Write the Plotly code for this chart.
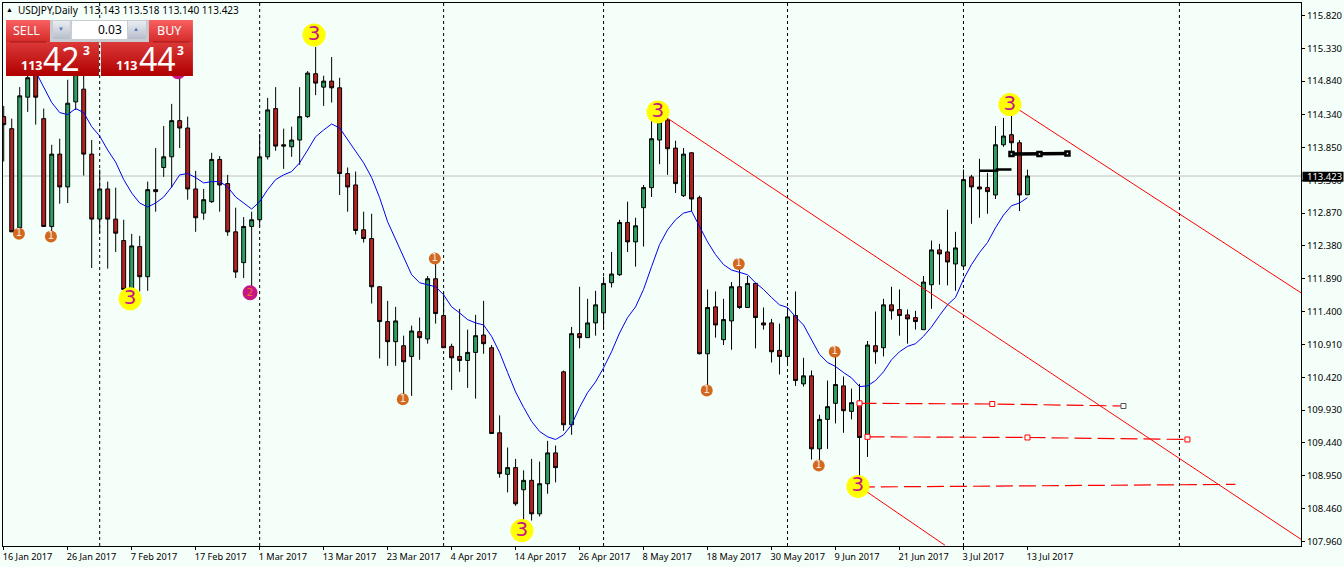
import plotly.graph_objects as go

BG = "#F5FFFA"
RED = "#B22222"
GREEN = "#2E9F62"

title_text = "USDJPY,Daily  113.143 113.518 113.140 113.423"

opens = [114.31,114.13,112.65,114.60,114.98,114.28,112.67,113.75,113.26,114.53,
         114.72,113.75,112.78,113.23,112.78,112.46,111.73,112.37,111.92,113.22,
         113.55,113.71,114.25,114.14,113.23,112.87,113.04,113.67,113.31,112.59,
         112.13,112.67,112.77,113.71,114.43,113.89,113.86,113.96,114.31,114.95,
         114.75,114.84,114.74,113.46,113.29,112.62,112.49,111.77,111.25,110.95,
         110.89,110.73,111.10,110.99,111.89,111.34,110.88,110.73,110.67,110.79,
         111.05,110.86,109.59,108.97,109.07,108.74,108.88,108.38,108.83,109.29,
         110.50,109.71,111.07,111.01,111.23,111.38,111.83,111.95,112.73,112.44,
         112.95,113.25,113.96,114.26,113.84,113.13,113.77,113.10,110.77,111.47,
         110.98,111.26,111.77,111.46,111.82,111.23,111.23,110.82,110.73,111.34,
         110.32,110.44,109.35,109.79,110.03,110.29,109.91,110.04,109.52,110.89,
         110.86,111.50,111.43,111.35,111.31,111.13,111.80,112.32,112.29,112.11,
         112.08,113.41,113.26,113.25,113.14,113.89,114.04,113.92,113.143]
highs = [114.47,114.28,114.75,115.01,115.13,114.43,113.89,113.98,114.86,115.31,
         115.01,113.96,113.52,113.34,113.25,112.77,112.56,112.53,113.34,113.84,
         114.17,114.50,114.89,114.31,113.50,113.23,113.77,113.72,113.44,112.95,
         112.81,112.89,114.05,114.59,114.75,114.13,114.16,114.75,114.99,115.35,
         114.92,115.20,114.89,113.55,113.49,112.89,112.86,111.78,111.56,111.47,
         111.04,111.19,111.31,111.93,112.20,111.68,110.92,111.44,111.13,111.35,
         111.56,110.90,109.85,109.37,109.20,109.03,109.20,109.16,109.47,109.40,
         110.52,111.17,111.77,111.59,111.71,111.92,112.29,112.77,113.04,112.80,
         113.29,114.41,114.41,114.31,113.95,113.84,113.78,113.13,111.73,111.70,
         111.59,111.84,112.05,111.93,111.83,111.46,111.29,111.22,111.46,111.70,
         110.71,110.52,109.86,110.37,110.88,110.43,110.25,110.32,110.96,111.40,
         111.59,111.77,111.73,111.43,111.41,111.93,112.46,112.41,112.92,112.59,
         113.52,113.44,113.68,113.47,114.17,114.29,114.41,113.96,113.518]
lows = [113.64,112.59,112.59,114.38,114.19,112.67,112.59,113.01,113.02,114.41,
        113.43,112.05,112.57,112.04,112.29,111.68,111.73,111.70,111.71,112.89,
        113.41,113.25,113.84,113.07,112.59,112.77,113.02,112.89,112.53,111.90,
        111.90,111.77,112.67,113.67,113.80,113.53,113.71,113.59,114.29,114.63,
        114.47,114.52,113.14,112.89,112.55,112.43,111.52,110.70,110.59,110.59,
        110.09,110.14,110.68,110.92,111.22,110.86,110.23,110.50,110.26,110.10,
        110.77,109.58,108.92,108.70,108.50,108.26,108.28,108.34,108.68,108.85,
        109.62,109.56,110.85,111.01,111.04,111.14,111.76,111.93,112.29,112.07,
        112.37,113.11,113.60,113.44,113.17,113.11,112.90,110.76,110.28,111.01,
        110.90,110.83,111.44,111.46,110.85,111.13,110.64,110.46,110.61,110.29,
        110.28,109.19,109.16,109.35,109.73,109.59,109.79,108.94,109.23,110.62,
        110.73,111.28,111.04,110.92,111.13,111.13,111.44,111.80,111.79,111.71,
        112.05,112.71,112.80,112.86,113.08,113.86,113.74,112.90,113.140]
closes = [114.19,112.59,114.62,114.89,114.60,112.67,113.75,113.26,114.51,115.01,
          113.75,112.78,113.23,112.78,112.57,111.73,112.38,111.92,113.22,113.19,
          113.71,114.25,114.14,113.23,112.80,113.07,113.67,113.29,112.59,111.99,
          112.67,112.77,113.71,114.41,113.87,113.87,113.96,114.31,114.96,114.81,
          114.84,114.74,113.46,113.26,112.61,112.49,111.77,111.25,110.95,111.26,
          110.65,111.11,111.01,111.89,111.37,110.86,110.71,110.67,110.79,111.04,
          110.92,109.58,108.98,109.07,108.53,108.88,108.38,108.83,109.29,109.07,
          109.71,111.07,111.01,111.23,111.50,111.82,111.96,112.73,112.44,112.68,
          113.25,113.98,114.23,113.83,113.31,113.75,113.08,110.77,111.46,111.20,
          111.28,111.77,111.46,111.82,111.31,111.20,110.80,110.73,111.32,110.37,
          110.44,109.35,109.79,109.98,110.31,109.92,110.04,109.52,110.90,110.80,
          111.50,111.41,111.34,111.29,111.25,111.84,112.32,112.26,112.14,112.35,
          113.37,113.26,113.23,113.19,113.89,114.02,113.92,113.14,113.423]

ma_start = 4
ma_values = [114.98,114.74,114.52,114.37,114.34,114.43,114.37,114.16,114.02,113.81,
             113.63,113.37,113.17,113.02,112.96,113.02,113.11,113.26,113.44,113.46,
             113.40,113.32,113.34,113.34,113.26,113.11,113.02,112.93,113.04,113.22,
             113.37,113.44,113.49,113.62,113.81,114.01,114.11,114.20,114.14,113.96,
             113.78,113.62,113.40,113.10,112.74,112.47,112.20,111.95,111.83,111.80,
             111.77,111.65,111.47,111.38,111.28,111.23,111.20,111.03,110.79,110.49,
             110.20,109.97,109.76,109.61,109.53,109.49,109.56,109.71,109.97,110.19,
             110.35,110.56,110.80,111.08,111.31,111.47,111.73,112.07,112.40,112.62,
             112.77,112.87,112.90,112.67,112.44,112.25,112.10,112.02,111.98,111.95,
             111.83,111.73,111.61,111.50,111.46,111.32,111.20,110.98,110.76,110.64,
             110.58,110.49,110.41,110.28,110.29,110.37,110.50,110.68,110.80,110.88,
             110.92,111.03,111.17,111.34,111.50,111.61,111.88,112.10,112.28,112.43,
             112.65,112.84,112.98,113.02,113.10]

x_tick_idx = [0,8,16,24,32,40,48,56,64,72,80,88,96,104,112,120,128]
x_tick_labels = ["16 Jan 2017","26 Jan 2017","7 Feb 2017","17 Feb 2017","1 Mar 2017","13 Mar 2017",
                 "23 Mar 2017","4 Apr 2017","14 Apr 2017","26 Apr 2017","8 May 2017","18 May 2017",
                 "30 May 2017","9 Jun 2017","21 Jun 2017","3 Jul 2017","13 Jul 2017"]
y_tick_vals = [115.82,115.33,114.84,114.34,113.85,113.36,112.87,112.38,111.89,111.40,110.91,110.42,
               109.93,109.44,108.95,108.46,107.96]
y_tick_labels = ["%.3f" % v for v in y_tick_vals]
month_seps = [12,32,55,75,98,120,147]
last_price = 113.423

yellow_x = [38.8,15.8,64.8,81.8,106.8,125.8]
yellow_y = [115.53,111.59,108.13,114.38,108.79,114.49]
orange_x = [1.9,5.9,49.9,53.9,87.9,91.9,101.9,103.9]
orange_y = [112.56,112.52,110.09,112.19,110.22,112.11,109.10,110.80]
pink_x = [30.8,21.8]
pink_y = [111.68,114.98]

trend_lines = [([81.8,162.2],[114.38,108.00]),
               ([125.8,162.2],[114.50,111.68]),
               ([106.8,117.7],[108.80,107.91])]
dash_lines = [([107,123.6,140],[110.03,110.02,109.99]),
              ([108,128,148],[109.53,109.52,109.49]),
              ([106.8,154],[108.78,108.82])]
black_marked_x = [126,129.5,133]
black_marked_y = [113.75,113.75,113.76]
black_plain_x = [122,124.2,124.2,126]
black_plain_y = [113.50,113.50,113.52,113.52]

L, R_EDGE, T, B = 3, 1301.5, 3, 546.5
W, H = 1344, 567
def xp(p): return (p - L) / (R_EDGE - L)
def yp(p): return 1 - (p - T) / (B - T)

fig = go.Figure()
idx = list(range(len(opens)))
fig.add_trace(go.Candlestick(
    x=idx, open=opens, high=highs, low=lows, close=closes,
    increasing=dict(fillcolor=GREEN, line=dict(color="#000000", width=1)),
    decreasing=dict(fillcolor=RED, line=dict(color="#000000", width=1)),
    whiskerwidth=0, showlegend=False, hoverinfo="skip"))
fig.add_trace(go.Scatter(x=idx[ma_start:], y=ma_values, mode="lines",
                         line=dict(color="#0000EE", width=1), showlegend=False, hoverinfo="skip"))
for xs, ys in trend_lines:
    fig.add_trace(go.Scatter(x=xs, y=ys, mode="lines", line=dict(color="#FF0000", width=1),
                             showlegend=False, hoverinfo="skip"))
dash_colors = [["#FF0000","#FF0000","#555555"], ["#FF0000","#FF0000","#FF0000"], None]
for (xs, ys), mc in zip(dash_lines, dash_colors):
    if mc:
        fig.add_trace(go.Scatter(x=xs, y=ys, mode="lines+markers",
                                 line=dict(color="#FF0000", width=1.2, dash="17px,6px"),
                                 marker=dict(symbol="square", size=5, color="#FFFFFF",
                                             line=dict(color=mc, width=1)),
                                 showlegend=False, hoverinfo="skip"))
    else:
        fig.add_trace(go.Scatter(x=xs, y=ys, mode="lines",
                                 line=dict(color="#FF0000", width=1.2, dash="17px,6px"),
                                 showlegend=False, hoverinfo="skip"))
fig.add_trace(go.Scatter(x=black_plain_x, y=black_plain_y, mode="lines",
                         line=dict(color="#000000", width=2.5), showlegend=False, hoverinfo="skip"))
fig.add_trace(go.Scatter(x=black_marked_x, y=black_marked_y, mode="lines+markers",
                         line=dict(color="#000000", width=3.5),
                         marker=dict(symbol="square", size=4, color="#FFFFFF", line=dict(color="#000000", width=2.5)),
                         showlegend=False, hoverinfo="skip"))
fig.add_trace(go.Scatter(x=yellow_x, y=yellow_y, mode="markers+text", text=["3"]*len(yellow_x),
                         textposition="middle center",
                         textfont=dict(color="#C71585", size=20, family="DejaVu Sans"),
                         marker=dict(size=23, color="#FFFF00"), showlegend=False, hoverinfo="skip"))
fig.add_trace(go.Scatter(x=orange_x, y=orange_y, mode="markers+text", text=["1"]*len(orange_x),
                         textposition="middle center",
                         textfont=dict(color="#F8E8E0", size=10, family="DejaVu Sans"),
                         marker=dict(size=12, color="#D2691E"), showlegend=False, hoverinfo="skip"))
fig.add_trace(go.Scatter(x=pink_x, y=pink_y, mode="markers+text", text=["2"]*len(pink_x),
                         textposition="middle center",
                         textfont=dict(color="#E8742A", size=11, family="DejaVu Sans"),
                         marker=dict(size=15, color="#C71585"), showlegend=False, hoverinfo="skip"))

shapes = []
for m in month_seps:
    shapes.append(dict(type="line", xref="x", yref="paper", x0=m, x1=m, y0=0, y1=1, layer="below",
                       line=dict(color="#000000", width=1, dash="3px,3px")))
shapes.append(dict(type="line", xref="paper", yref="y", x0=0, x1=1, y0=last_price, y1=last_price,
                   layer="below", line=dict(color="#C0C0C0", width=1)))

def rect(x0, y0, x1, y1, fill, line=None):
    shapes.append(dict(type="rect", xref="paper", yref="paper", layer="above",
                       x0=xp(x0), x1=xp(x1), y0=yp(y0), y1=yp(y1), fillcolor=fill,
                       line=dict(width=1 if line else 0, color=line or fill)))
def lerp(a, b, t):
    return "#%02X%02X%02X" % tuple(round(a[k] + (b[k] - a[k]) * t) for k in range(3))
def gradient(x0, y0, x1, y1, top, bot):
    n = int(y1 - y0)
    for k in range(n):
        rect(x0, y0 + k, x1, y0 + k + 1, lerp(top, bot, k / max(n - 1, 1)))

# trading panel
rect(49, 20, 150, 43, "#C8CCD0")
rect(72, 21, 127, 39, "#FFFFFF")
gradient(53, 21, 70, 39, (0xE8,0xEC,0xF2), (0xB8,0xC0,0xCC))
gradient(128, 21, 146, 39, (0xE8,0xEC,0xF2), (0xB8,0xC0,0xCC))
gradient(6, 20, 50, 43, (0xF8,0x60,0x60), (0xD4,0x28,0x28))
gradient(149, 20, 193, 43, (0xF8,0x60,0x60), (0xD4,0x28,0x28))
gradient(6, 42, 99, 76, (0xDC,0x38,0x38), (0xB0,0x00,0x00))
gradient(101, 42, 193, 76, (0xDC,0x38,0x38), (0xB0,0x00,0x00))
rect(10, 41.5, 46, 42.5, "#A01818")
rect(153, 41.5, 189, 42.5, "#A01818")
rect(1303, 172, 1344, 182, "#000000")

UI = "Noto Sans"
def note(px, py, text, size, color="#000000", anchor="left", family=UI, bold=False):
    if bold:
        text = "<b>%s</b>" % text
    return dict(xref="paper", yref="paper", x=xp(px), y=yp(py), text=text, showarrow=False,
                xanchor=anchor, yanchor="middle", align=anchor,
                font=dict(size=size, color=color, family=family),
                borderpad=0, borderwidth=0)
annotations = [
    note(6, 10, "▲", 7),
    note(18, 10, title_text.replace("  ", "&nbsp;&nbsp;"), 10),
    note(27, 30.5, "SELL", 12.5, "#FFFFFF", "center"),
    note(170, 30.5, "BUY", 12.5, "#FFFFFF", "center"),
    note(122, 30, "0.03", 12, "#000000", "right"),
    note(61.5, 29.5, "▼", 6, "#5B6FC0", "center"),
    note(136.5, 29.5, "▲", 6, "#5B6FC0", "center"),
    note(32, 65.5, "113", 12.5, "#FFFFFF", "center", bold=True),
    note(62, 58.5, "42", 32, "#FFFFFF", "center"),
    note(86.5, 50.5, "3", 12, "#FFFFFF", "center", bold=True),
    note(126.5, 65.5, "113", 12.5, "#FFFFFF", "center", bold=True),
    note(157.5, 58.5, "44", 32, "#FFFFFF", "center"),
    note(181, 50.5, "3", 12, "#FFFFFF", "center", bold=True),
    note(1308, 177, "%.3f" % last_price, 9.5, "#FFFFFF"),
]

fig.update_layout(
    width=W, height=H, margin=dict(l=L, r=W - R_EDGE, t=T, b=H - B, pad=0, autoexpand=False),
    paper_bgcolor=BG, plot_bgcolor=BG, shapes=shapes, annotations=annotations,
    boxgap=0.3, showlegend=False, font=dict(family=UI, color="#000000"),
    xaxis=dict(range=[-0.09, 162.2], rangeslider=dict(visible=False), showgrid=False, zeroline=False,
               tickmode="array", tickvals=x_tick_idx, ticktext=x_tick_labels, ticks="outside", ticklen=3,
               tickangle=0, tickcolor="#000000", ticklabelposition="outside right", ticklabeloverflow="allow",
               ticklabelshift=-2, ticklabelstandoff=2,
               tickfont=dict(size=9.2, family=UI), showline=True, linecolor="#000000", linewidth=1, mirror=True),
    yaxis=dict(range=[116.006, 107.90][::-1], side="right", showgrid=False, zeroline=False,
               tickmode="array", tickvals=y_tick_vals, ticktext=y_tick_labels, ticks="outside", ticklen=3,
               tickcolor="#000000", tickfont=dict(size=9.5, family=UI), showline=True, linecolor="#000000",
               linewidth=1, mirror=True),
)
fig.write_html("out.html", config=dict(displayModeBar=False),
               post_script="document.body.style.margin='0';document.body.style.overflow='hidden';document.body.style.background='%s';" % BG)
